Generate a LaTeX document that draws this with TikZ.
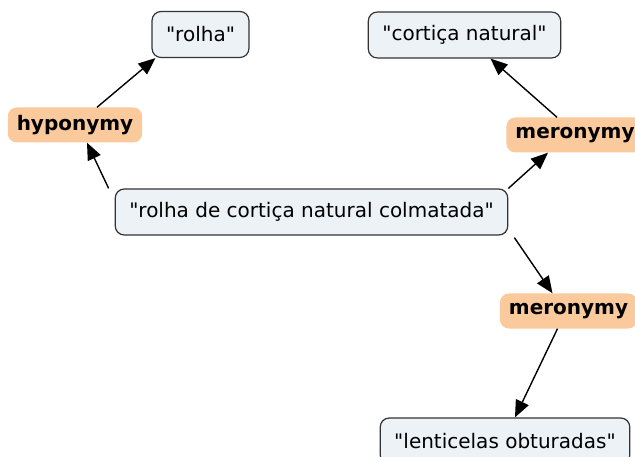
\documentclass[tikz,border=0pt]{standalone}
\usepackage{fontspec}
\setmainfont{DejaVu Sans}
\usetikzlibrary{arrows.meta}
\definecolor{conceptfill}{RGB}{237,242,246}
\definecolor{linkfill}{RGB}{250,201,156}
\newcommand{\qt}[1]{\textquotedbl#1\textquotedbl}
\begin{document}
\begin{tikzpicture}[x=1pt, y=-1pt,
  concept/.style={draw=black!80, line width=1.2pt, fill=conceptfill, rounded corners=9pt,
    inner xsep=14pt, minimum height=46pt, font=\fontsize{20}{23}\selectfont},
  linkword/.style={fill=linkfill, rounded corners=9pt, inner xsep=9pt,
    minimum height=35pt, font=\fontsize{20}{23}\selectfont\bfseries},
  rel/.style={line width=1.4pt, -{Triangle[length=17pt,width=14pt]}}]
\useasboundingbox (0,0) rectangle (635,457);
\node[concept] (main) at (311.5, 212) {\qt{rolha de cortiça natural colmatada}};
\node[concept] (rolha) at (200.5, 34.5) {\qt{rolha}};
\node[concept] (cortica) at (464.5, 35) {\qt{cortiça natural}};
\node[concept] (lent) at (505, 441) {\qt{lenticelas obturadas}};
\node[linkword] (hypo) at (75, 125) {hyponymy};
\node[linkword] (merotop) at (575, 135) {meronymy};
\node[linkword] (merobot) at (568.5, 311) {meronymy};
\draw[rel] ([xshift=-6pt]main.north west) -- ([xshift=12pt]hypo.south);
\draw[rel] ([xshift=22pt]hypo.north) -- ([xshift=4pt]rolha.south west);
\draw[rel] (main.north east) -- ([xshift=-27pt]merotop.south);
\draw[rel] ([xshift=-18pt]merotop.north) -- ([xshift=26pt]cortica.south);
\draw[rel] ([xshift=6pt,yshift=-2pt]main.south east) -- ([xshift=-16pt]merobot.north);
\draw[rel] ([xshift=-11pt]merobot.south) -- ([xshift=10pt]lent.north);
\end{tikzpicture}
\end{document}
